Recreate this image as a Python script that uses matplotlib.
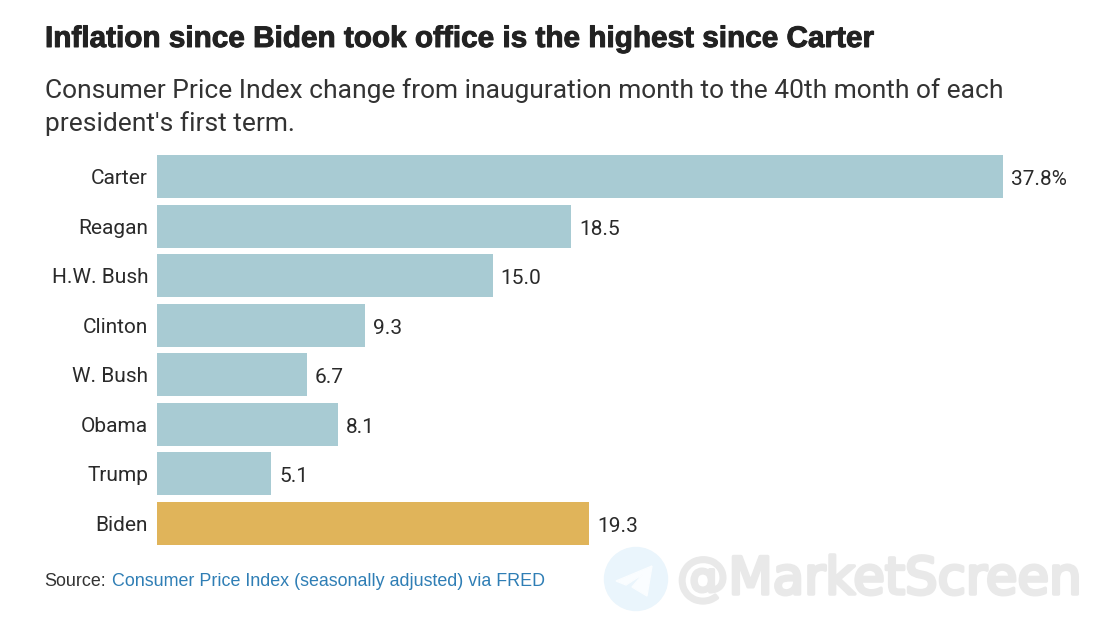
import matplotlib
matplotlib.use("Agg")
import matplotlib.pyplot as plt
import matplotlib.patheffects as pe
from matplotlib.patches import Circle, Polygon

presidents = ["Carter", "Reagan", "H.W. Bush", "Clinton", "W. Bush", "Obama", "Trump", "Biden"]
changes = [37.8, 18.5, 15.0, 9.3, 6.7, 8.1, 5.1, 19.3]
labels = ["37.8%", "18.5", "15.0", "9.3", "6.7", "8.1", "5.1", "19.3"]
colors = ["#a8cbd3"] * 7 + ["#e0b45a"]

W, H = 1104, 621
fig = plt.figure(figsize=(W/100, H/100), dpi=100, facecolor="white")
ax = fig.add_axes([157/W, 1-548.3/H, (1003-157)/W, (548.3-151.7)/H])
ax.barh(range(8), changes, height=0.867, color=colors)
ax.set_xlim(0, 37.8)
ax.set_ylim(7.5, -0.5)
ax.set_yticks([])
ax.set_xticks([])
for s in ax.spines.values():
    s.set_visible(False)
font = "Roboto"
for i, (p, v, l) in enumerate(zip(presidents, changes, labels)):
    ax.annotate(p, (0, i), xytext=(-9, -2), textcoords="offset pixels", ha="right", va="center",
                fontsize=15, family=font, color="#2a2a2a")
    ax.annotate(l, (v, i), xytext=(8, -3), textcoords="offset pixels", ha="left", va="center",
                fontsize=15, family=font, color="#2a2a2a", annotation_clip=False)

def t(x, y, s, **k):
    return fig.text(x/W, 1-y/H, s, **k)
title = t(45, 39, "Inflation since Biden took office is the highest since Carter", fontsize=21.4, fontweight="bold",
          family="Liberation Sans", color="#222222", va="center")
title.set_path_effects([pe.withStroke(linewidth=0.7, foreground="#222222")])
t(45, 91, "Consumer Price Index change from inauguration month to the 40th month of each", fontsize=19.0,
  family="Roboto", color="#333333", va="center")
t(45, 124, "president's first term.", fontsize=19.0, family="Roboto", color="#333333", va="center")
t(44.5, 581, "Source:", fontsize=12.9, family="Liberation Sans", color="#333333", va="center")
t(112, 581, "Consumer Price Index (seasonally adjusted) via FRED", fontsize=12.9, family="Liberation Sans",
  color="#2f7eb5", va="center")

# watermark
ov = fig.add_axes([0, 0, 1, 1], facecolor="none")
ov.set_xlim(0, W); ov.set_ylim(H, 0); ov.axis("off")
ov.add_patch(Circle((636, 579), 31.5, color="#eaf5fc"))
ov.add_patch(Polygon([(616, 581), (652, 566), (647, 596), (632, 587), (643, 574), (626, 585)], color="#fafdff"))
wm = ov.text(677, 580, "@MarketScreen", fontsize=37, family="DejaVu Sans", color="#e9e9e9", va="center")
wm.set_path_effects([pe.withStroke(linewidth=2.5, foreground="#e9e9e9")])
fig.savefig("out.png", dpi=100)
